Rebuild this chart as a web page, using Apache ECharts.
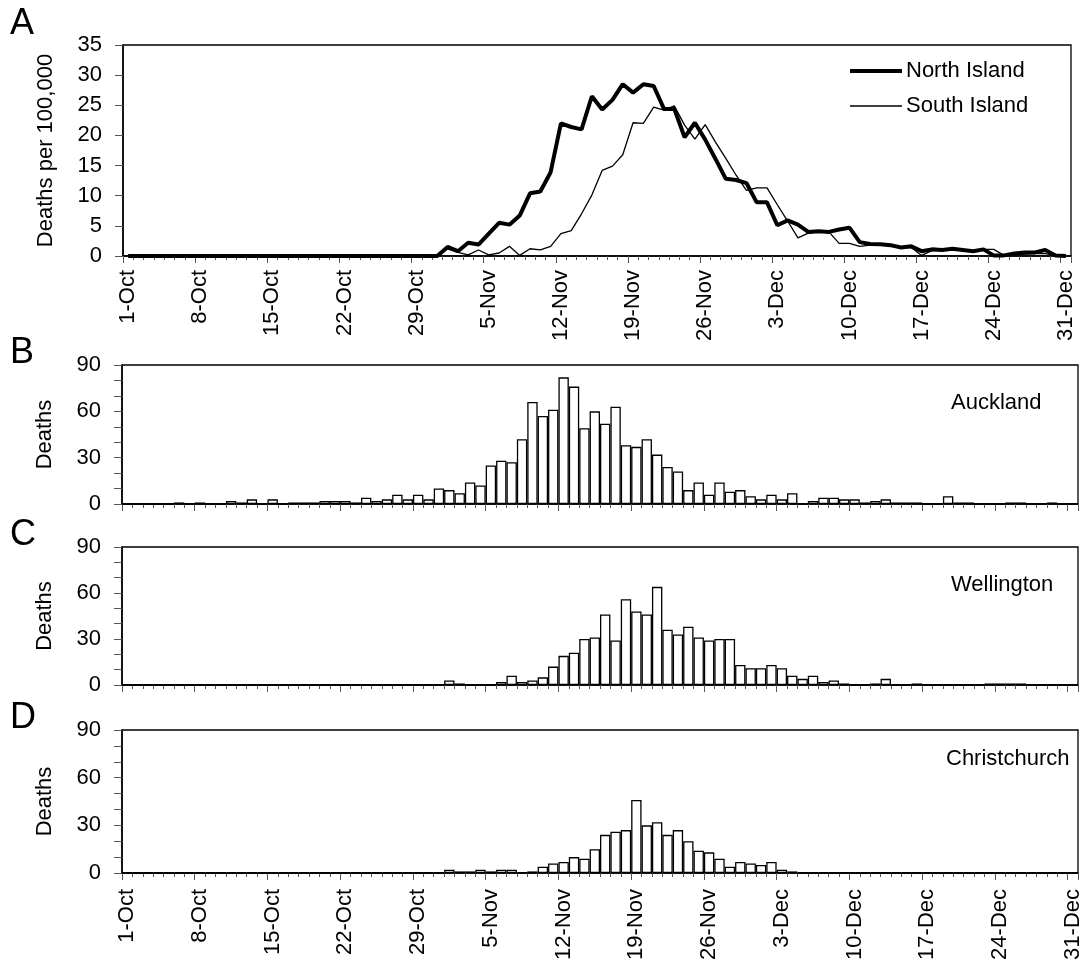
<!DOCTYPE html>
<html>
<head>
<meta charset="utf-8">
<script src="https://cdn.jsdelivr.net/npm/echarts@6/dist/echarts.min.js"></script>
<style>
html,body{margin:0;padding:0;background:#fff;}
#chart{width:1085px;height:971px;}
</style>
</head>
<body>
<div id="chart"></div>
<script>
// ---- categories (1-Oct .. 31-Dec) ----
var monthNames = ['Oct', 'Nov', 'Dec'];
var monthDays = [31, 30, 31];
var categories = [];
for (var m = 0; m < monthNames.length; m++) {
  for (var d = 1; d <= monthDays[m]; d++) categories.push(d + '-' + monthNames[m]);
}
var tickLabels = ['1-Oct','8-Oct','15-Oct','22-Oct','29-Oct','5-Nov','12-Nov','19-Nov','26-Nov','3-Dec','10-Dec','17-Dec','24-Dec','31-Dec'];

// ---- Panel A: deaths per 100,000 ----
var northIsland = [
  0,0,0,0,0,0,0,0,0,0,
  0,0,0,0,0,0,0,0,0,0,
  0,0,0,0,0,0,0,0,0,0,
  0,1.5,0.8,2.2,1.9,3.7,5.5,5.2,6.7,10.4,
  10.7,13.9,22.0,21.4,21.0,26.5,24.3,25.9,28.5,27.1,
  28.5,28.2,24.4,24.4,19.7,22.1,19.3,16.1,12.8,12.6,
  12.1,8.9,8.9,5.1,5.9,5.2,4.0,4.1,4.0,4.4,
  4.7,2.3,2.0,1.95,1.8,1.4,1.6,0.8,1.1,1.0,
  1.2,1.0,0.8,1.1,0.1,0.1,0.4,0.6,0.6,1.0,
  0.1,0
];
var southIsland = [
  0,0,0,0,0,0,0,0,0,0,
  0,0,0,0,0,0,0,0,0,0,
  0,0,0,0,0,0,0,0,0,0,
  0,1.2,0.6,0.2,1.0,0.2,0.5,1.6,0.1,1.2,
  1.0,1.6,3.7,4.2,7.0,10.1,14.2,14.9,16.8,22.1,
  22.0,24.7,24.2,24.9,21.7,19.4,21.8,18.9,16.2,13.4,
  10.9,11.3,11.3,8.5,5.8,3.0,3.8,4.0,4.0,2.1,
  2.1,1.6,1.8,1.9,1.6,1.4,1.4,0.1,0.9,0.9,
  1.2,0.9,0.9,1.1,1.1,0.1,0.2,0.3,0.4,0.4,
  0.1,0
];
var seriesNames = ['North Island', 'South Island'];

// ---- Panels B-D: daily deaths ----
var auckland = [
  0,0,0,0,0,1,0,1,0,0,
  2,1,3,0,3,0,1,1,1,2,
  2,2,1,4,2,3,6,3,6,3,
  10,9,7,14,12,25,28,27,42,66,
  57,61,82,76,49,60,52,63,38,37,
  42,32,24,21,9,14,6,14,8,9,
  5,3,6,3,7,0,2,4,4,3,
  3,1,2,3,1,1,1,0,0,5,
  1,1,0,0,0,1,1,0,0,1,
  0,0
];
var wellington = [
  0,0,0,0,0,0,0,0,0,0,
  0,0,0,0,0,0,0,0,0,0,
  0,0,0,0,0,0,0,0,0,0,
  0,3,1,0,0,0,2,6,2,3,
  5,12,19,21,30,31,46,29,56,48,
  46,64,36,33,38,31,29,30,30,13,
  11,11,13,11,6,4,6,2,3,1,
  0,0,1,4,0,0,1,0,0,0,
  0,0,0,1,1,1,1,0,0,0,
  0,0
];
var christchurch = [
  0,0,0,0,0,0,0,0,0,0,
  0,0,0,0,0,0,0,0,0,0,
  0,0,0,0,0,0,0,0,0,0,
  0,2,1,1,2,1,2,2,0,1,
  4,6,7,10,9,15,24,26,27,46,
  30,32,24,27,20,14,13,9,4,7,
  6,5,7,2,1,0,0,0,0,0,
  0,0,0,0,0,0,0,0,0,0,
  0,0,0,0,0,0,0,0,0,0,
  0,0
];
var cityNames = ['Auckland', 'Wellington', 'Christchurch'];

var FONT = '"Liberation Sans", Arial, sans-serif';
var BLACK = '#000';

var grids = [
  {left: 123, right: 14, top: 45, height: 211},
  {left: 122, right: 7, top: 365, height: 139},
  {left: 122, right: 7, top: 547, height: 138},
  {left: 122, right: 7, top: 730, height: 143}
];

function labelFormatter(value, index) {
  return index % 7 === 0 ? tickLabels[index / 7] : '';
}

var xAxes = [];
var yAxes = [];
for (var g = 0; g < 4; g++) {
  var showLabels = (g === 0 || g === 3);
  xAxes.push({
    type: 'category', gridIndex: g, data: categories, position: 'bottom', boundaryGap: true,
    axisLine: {show: true, lineStyle: {color: BLACK, width: 1.5}},
    axisTick: {show: true, interval: 0, length: 4, lineStyle: {color: '#555', width: 1}},
    axisLabel: {show: showLabels, interval: 6, rotate: 90, margin: g === 0 ? 14 : 16,
      color: BLACK, fontSize: 22, fontFamily: FONT, formatter: labelFormatter},
    splitLine: {show: false}
  });
  xAxes.push({
    type: 'category', gridIndex: g, data: categories, position: 'bottom', boundaryGap: true,
    axisLine: {show: false},
    axisTick: {show: true, interval: 6, length: 7, lineStyle: {color: '#555', width: 1}},
    axisLabel: {show: false},
    splitLine: {show: false}
  });
  if (g === 0) {
    yAxes.push({
      type: 'value', gridIndex: 0, min: 0, max: 35, interval: 5,
      name: 'Deaths per 100,000', nameLocation: 'middle', nameGap: 66,
      nameTextStyle: {color: BLACK, fontSize: 22, fontFamily: FONT},
      axisLine: {show: true, lineStyle: {color: BLACK, width: 1.5}},
      axisTick: {show: true, length: 8, lineStyle: {color: '#555'}},
      axisLabel: {color: BLACK, fontSize: 22, fontFamily: FONT, margin: 21},
      splitLine: {show: false}
    });
  } else {
    yAxes.push({
      type: 'value', gridIndex: g, min: 0, max: 90, interval: 30,
      name: 'Deaths', nameLocation: 'middle', nameGap: 66,
      nameTextStyle: {color: BLACK, fontSize: 22, fontFamily: FONT},
      axisLine: {show: true, lineStyle: {color: BLACK, width: 1.5}},
      axisTick: {show: true, length: 8, lineStyle: {color: '#555'}},
      minorTick: {show: true, splitNumber: 3, length: 8, lineStyle: {color: '#555'}},
      axisLabel: {color: BLACK, fontSize: 22, fontFamily: FONT, margin: 21},
      splitLine: {show: false}
    });
  }
}

function barSeries(name, data, g) {
  return {
    name: name, type: 'bar', xAxisIndex: g * 2, yAxisIndex: g, data: data,
    barCategoryGap: '0%',
    itemStyle: {color: '#fff', borderColor: BLACK, borderWidth: 1.3},
    emphasis: {disabled: true}, silent: true
  };
}

function txt(str, x, y, size) {
  return {type: 'text', x: x, y: y, silent: true,
    style: {text: str, fill: BLACK, font: size + 'px ' + FONT, align: 'left', verticalAlign: 'middle'}};
}

var option = {
  backgroundColor: '#fff',
  animation: false,
  grid: grids.map(function (gr) {
    return Object.assign({show: true, borderColor: BLACK, borderWidth: 1.3,
      backgroundColor: 'transparent', containLabel: false, outerBoundsMode: 'none'}, gr);
  }),
  xAxis: xAxes,
  yAxis: yAxes,
  graphic: [
    txt('A', 10, 24, 36),
    txt('B', 10, 353, 36),
    txt('C', 10, 535, 36),
    txt('D', 10, 718, 36),
    txt(cityNames[0], 951, 403, 22),
    txt(cityNames[1], 951, 585, 22),
    txt(cityNames[2], 946, 759, 22),
    // legend swatches
    {type: 'line', silent: true, shape: {x1: 850, y1: 71, x2: 902, y2: 71}, style: {stroke: BLACK, lineWidth: 4}},
    {type: 'line', silent: true, shape: {x1: 850, y1: 106, x2: 902, y2: 106}, style: {stroke: BLACK, lineWidth: 1.3}},
    txt(seriesNames[0], 906, 71, 22),
    txt(seriesNames[1], 906, 106, 22)
  ],
  series: [
    {name: seriesNames[0], type: 'line', xAxisIndex: 0, yAxisIndex: 0, data: northIsland,
      symbol: 'none', lineStyle: {color: BLACK, width: 4}, itemStyle: {color: BLACK}, z: 5, silent: true},
    {name: seriesNames[1], type: 'line', xAxisIndex: 0, yAxisIndex: 0, data: southIsland,
      symbol: 'none', lineStyle: {color: BLACK, width: 1.3}, itemStyle: {color: BLACK}, z: 4, silent: true},
    barSeries(cityNames[0], auckland, 1),
    barSeries(cityNames[1], wellington, 2),
    barSeries(cityNames[2], christchurch, 3)
  ]
};

var chart = echarts.init(document.getElementById('chart'), null, {renderer: 'canvas'});
chart.setOption(option);
</script>
</body>
</html>
